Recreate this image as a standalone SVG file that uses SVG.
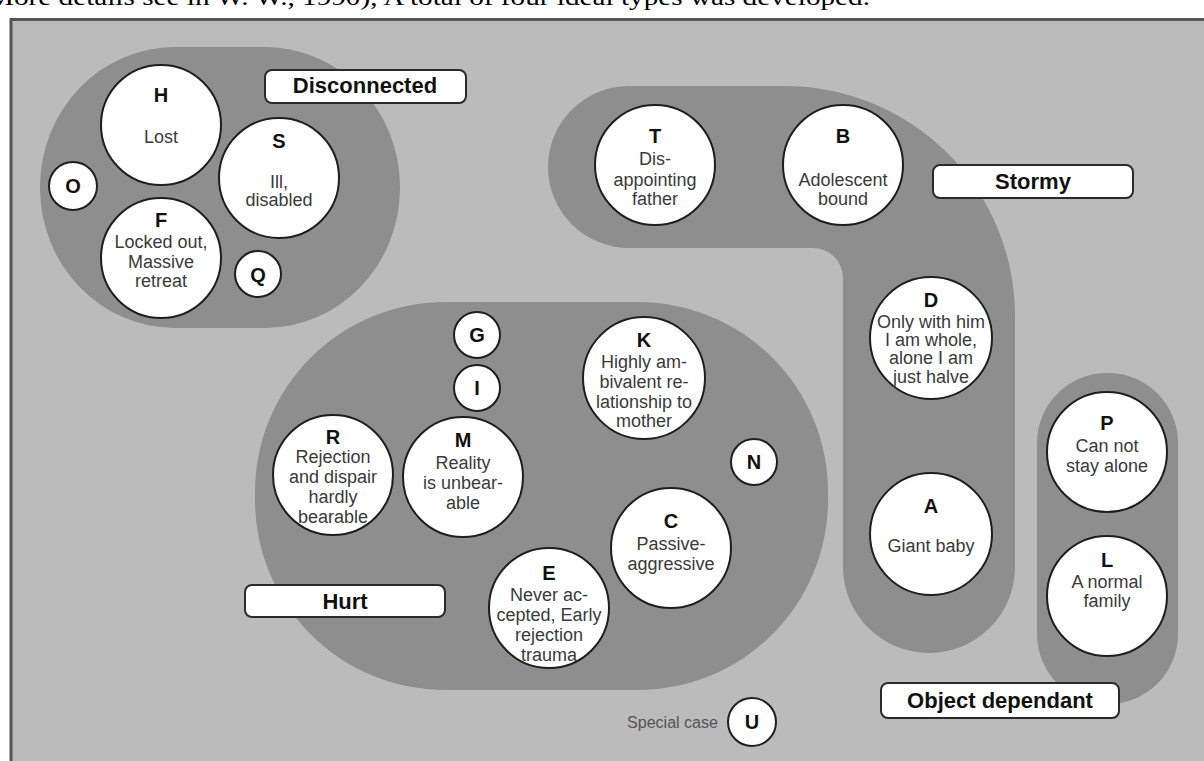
<svg xmlns="http://www.w3.org/2000/svg" width="1204" height="761" viewBox="0 0 1204 761">
<style>
.blob{fill:#8e8e8e}
.nd{fill:#ffffff;stroke:#1e1e1e;stroke-width:2}
.lb{fill:#ffffff;stroke:#2a2a2a;stroke-width:2}
.let{font-family:"Liberation Sans",Arial,sans-serif;font-weight:bold;font-size:20px;fill:#111;text-anchor:middle}
.tx{font-family:"Liberation Sans",Arial,sans-serif;font-size:18px;fill:#3a3a3a;text-anchor:middle}
.lt{font-family:"Liberation Sans",Arial,sans-serif;font-weight:bold;font-size:22px;fill:#111;text-anchor:middle}
</style>
<rect x="0" y="0" width="1204" height="761" fill="#ffffff"/>
<text x="-12" y="5" font-family="'Liberation Serif',serif" font-size="23" fill="#000" textLength="882" lengthAdjust="spacingAndGlyphs">More details see in W. W., 1990), A total of four ideal types was developed.</text>
<rect x="11" y="19.5" width="1200" height="760" fill="#bbbbbb" stroke="#555555" stroke-width="3"/>

<g id="blobs">
<rect class="blob" x="40" y="47" width="360" height="281" rx="135" ry="140"/>
<path class="blob" d="M629 86 H785 A230 230 0 0 1 1015 316 V567 A86 86 0 0 1 843 567 V278 A30 30 0 0 0 813 248 H629 A81 81 0 0 1 629 86 Z"/>
<rect class="blob" x="255" y="302" width="573" height="388" rx="190" ry="190"/>
<rect class="blob" x="1037" y="373" width="141" height="331" rx="70" ry="70"/>
</g>

<g id="connectors"></g>

<g id="label-disconnected"><rect class="lb" x="265" y="70" width="201" height="33" rx="7"/><text class="lt" x="365" y="93">Disconnected</text></g>
<g id="label-stormy"><rect class="lb" x="933" y="165" width="200" height="33" rx="7"/><text class="lt" x="1033" y="189">Stormy</text></g>
<g id="label-hurt"><rect class="lb" x="245" y="585" width="200" height="32" rx="7"/><text class="lt" x="345" y="609">Hurt</text></g>
<g id="label-object"><rect class="lb" x="881" y="683" width="238" height="35" rx="7"/><text class="lt" x="1000" y="708">Object dependant</text></g>

<g id="node-H"><circle class="nd" cx="161" cy="125" r="60"/><text class="let" x="161" y="102">H</text><text class="tx" x="161" y="143">Lost</text></g>
<g id="node-S"><circle class="nd" cx="279" cy="178" r="60"/><text class="let" x="279" y="148">S</text><text class="tx" x="279" y="188">Ill,</text><text class="tx" x="279" y="206">disabled</text></g>
<g id="node-O"><circle class="nd" cx="73" cy="186" r="24"/><text class="let" x="73" y="193">O</text></g>
<g id="node-F"><circle class="nd" cx="161" cy="258" r="60"/><text class="let" x="161" y="227">F</text><text class="tx" x="161" y="248">Locked out,</text><text class="tx" x="161" y="268">Massive</text><text class="tx" x="161" y="287">retreat</text></g>
<g id="node-Q"><circle class="nd" cx="258" cy="274" r="23"/><text class="let" x="258" y="282">Q</text></g>

<g id="node-T"><circle class="nd" cx="655" cy="165" r="60"/><text class="let" x="655" y="143">T</text><text class="tx" x="655" y="165">Dis-</text><text class="tx" x="655" y="186">appointing</text><text class="tx" x="655" y="205">father</text></g>
<g id="node-B"><circle class="nd" cx="843" cy="165" r="60"/><text class="let" x="843" y="143">B</text><text class="tx" x="843" y="186">Adolescent</text><text class="tx" x="843" y="205">bound</text></g>
<g id="node-D"><circle class="nd" cx="931" cy="338" r="61"/><text class="let" x="931" y="307">D</text><text class="tx" x="931" y="328">Only with him</text><text class="tx" x="931" y="346">I am whole,</text><text class="tx" x="931" y="364">alone I am</text><text class="tx" x="931" y="383">just halve</text></g>
<g id="node-A"><circle class="nd" cx="931" cy="534" r="61"/><text class="let" x="931" y="513">A</text><text class="tx" x="931" y="552">Giant baby</text></g>

<g id="node-P"><circle class="nd" cx="1107" cy="452" r="60"/><text class="let" x="1107" y="430">P</text><text class="tx" x="1107" y="452">Can not</text><text class="tx" x="1107" y="472">stay alone</text></g>
<g id="node-L"><circle class="nd" cx="1107" cy="596" r="60"/><text class="let" x="1107" y="567">L</text><text class="tx" x="1107" y="588">A normal</text><text class="tx" x="1107" y="607">family</text></g>

<g id="node-G"><circle class="nd" cx="477" cy="335" r="23"/><text class="let" x="477" y="342">G</text></g>
<g id="node-I"><circle class="nd" cx="477" cy="388" r="23"/><text class="let" x="477" y="395">I</text></g>
<g id="node-K"><circle class="nd" cx="644" cy="378" r="61"/><text class="let" x="644" y="347">K</text><text class="tx" x="644" y="368">Highly am-</text><text class="tx" x="644" y="388">bivalent re-</text><text class="tx" x="644" y="408">lationship to</text><text class="tx" x="644" y="427">mother</text></g>
<g id="node-R"><circle class="nd" cx="333" cy="475" r="60"/><text class="let" x="333" y="444">R</text><text class="tx" x="333" y="463">Rejection</text><text class="tx" x="333" y="483">and dispair</text><text class="tx" x="333" y="503">hardly</text><text class="tx" x="333" y="523">bearable</text></g>
<g id="node-M"><circle class="nd" cx="463" cy="477" r="60"/><text class="let" x="463" y="447">M</text><text class="tx" x="463" y="469">Reality</text><text class="tx" x="463" y="489">is unbear-</text><text class="tx" x="463" y="509">able</text></g>
<g id="node-N"><circle class="nd" cx="754" cy="462" r="23"/><text class="let" x="754" y="469">N</text></g>
<g id="node-C"><circle class="nd" cx="671" cy="548" r="60"/><text class="let" x="671" y="528">C</text><text class="tx" x="671" y="550">Passive-</text><text class="tx" x="671" y="570">aggressive</text></g>
<g id="node-E"><circle class="nd" cx="549" cy="608" r="60"/><text class="let" x="549" y="580">E</text><text class="tx" x="549" y="601">Never ac-</text><text class="tx" x="549" y="621">cepted, Early</text><text class="tx" x="549" y="641">rejection</text><text class="tx" x="549" y="661">trauma</text></g>

<g id="node-U"><circle class="nd" cx="752" cy="722" r="24"/><text class="let" x="752" y="729">U</text><text font-family="'Liberation Sans',Arial,sans-serif" font-size="16" fill="#555" text-anchor="end" x="718" y="728" textLength="91" lengthAdjust="spacingAndGlyphs">Special case</text></g>
</svg>
